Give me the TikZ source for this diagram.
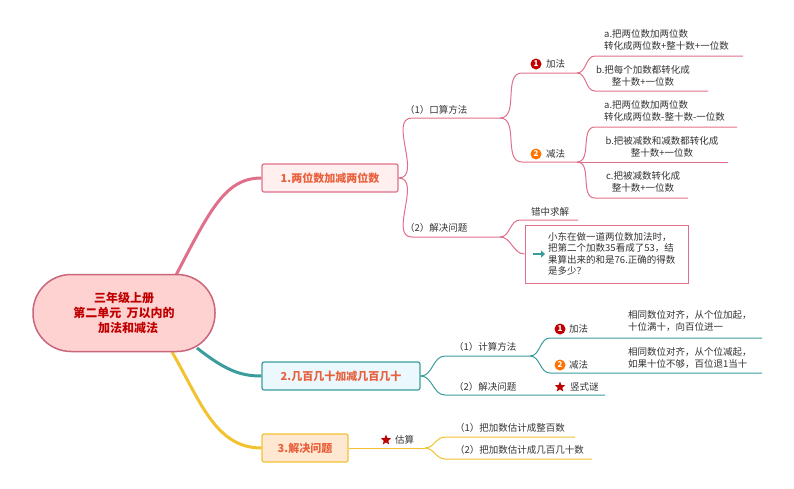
\documentclass[tikz,border=0pt]{standalone}
\usepackage{fontspec}
\setmainfont{Noto Sans CJK SC}
\usetikzlibrary{shapes.geometric,arrows.meta}
\definecolor{pk}{HTML}{E0708A}
\definecolor{tl}{HTML}{3A9C9C}
\definecolor{yl}{HTML}{F2C230}
\definecolor{txt}{HTML}{333333}
\definecolor{org}{HTML}{E8603C}
\definecolor{rd}{HTML}{C00000}
\tikzset{
 t/.style={font=\fontsize{9.5}{11.5}\selectfont,text=txt,inner sep=0pt,align=left},
 tc/.style={t,align=center},
 br/.style={draw,line width=1.2pt,rounded corners=2pt,minimum height=28pt,font=\fontsize{11}{13}\selectfont\bfseries,text=org},
 ln/.style={line width=1pt},
 num/.style={circle,inner sep=0pt,minimum size=11pt,text=white,font=\fontsize{8}{8}\selectfont\bfseries},
 rstar/.style={star,star points=5,star point ratio=2.3,fill=rd,inner sep=0pt,minimum size=11pt}
}
\begin{document}
\begin{tikzpicture}[x=1pt,y=-1pt]
\useasboundingbox (0,0) rectangle (794,488);
% branch boxes
\node[br,draw=pk,fill=pink!25,minimum width=136pt] (b1) at (330,178) {1.两位数加减两位数};
\node[br,draw=tl,fill=cyan!8,minimum width=158pt] (b2) at (341,376) {2.几百几十加减几百几十};
\node[br,draw=yl,fill=orange!18,minimum width=86pt] (b3) at (305,448) {3.解决问题};
\coordinate (r1) at (175,277);
\coordinate (r2) at (197,348);
\coordinate (r3) at (172,352);
\draw[pk,line width=3pt] (r1) .. controls (210,210) and (225,178) .. (b1.west);
\draw[tl,line width=3pt] (r2) .. controls (225,370) and (240,376) .. (b2.west);
\draw[yl,line width=3pt] (r3) .. controls (200,400) and (215,448) .. (b3.west);
\node[draw=pk!90!black,line width=1.5pt,fill=pink!70,rounded corners=38pt,minimum width=182pt,minimum height=77pt,font=\fontsize{12}{15}\selectfont\bfseries,text=rd,align=center] (root) at (124,313) {三年级上册\\第二单元\ \ 万以内的\\\ \ \ 加法和减法};
% branch 1
\begin{scope}[pk,ln]
\coordinate (k1) at (500,118); \coordinate (k2) at (500,237);
\draw (b1.east) to[out=0,in=180] (412,118) -- (k1);
\draw (b1.east) to[out=0,in=180] (412,237) -- (k2);
\coordinate (a1) at (577,73); \coordinate (s1) at (577,162);
\draw (k1) to[out=0,in=180] (522,73) -- (a1);
\draw (k1) to[out=0,in=180] (522,162) -- (s1);
\coordinate (a1a) at (743,56); \coordinate (a1b) at (708,91);
\draw (a1) to[out=0,in=180] (595,56) -- (a1a);
\draw (a1) to[out=0,in=180] (595,91) -- (a1b);
\coordinate (s1a) at (737,127); \coordinate (s1b) at (728,162); \coordinate (s1c) at (688,198);
\draw (s1) to[out=0,in=180] (595,127) -- (s1a);
\draw (s1) -- (s1b);
\draw (s1) to[out=0,in=180] (595,198) -- (s1c);
\coordinate (e1) at (578,220);
\draw (k2) to[out=0,in=180] (520,220) -- (e1);
\node[draw=pk,line width=1pt,minimum width=163pt,minimum height=58pt] (qbox) at (606.5,254) {};
\draw (k2) to[out=0,in=180] (qbox.west);
\end{scope}
\node[t,anchor=west] (n11) at (405,110) {（1）口算方法};
\node[t,anchor=west] (n12) at (405,228) {（2）解决问题};
\node[num,fill=rd] (c1) at (536,64) {1};
\node[t,anchor=west] (jf) at (546,64) {加法};
\node[num,fill=orange!90!red] (c2) at (536,154) {2};
\node[t,anchor=west] (jian) at (546,154) {减法};
\node[t,anchor=west] (ta1) at (604,40) {a.把两位数加两位数\\转化成两位数+整十数+一位数};
\node[tc] (ta2) at (643,76) {b.把每个加数都转化成\\整十数+一位数};
\node[t,anchor=west] (ts1) at (604,111) {a.把两位数加两位数\\转化成两位数-整十数-一位数};
\node[tc] (ts2) at (662,147) {b.把被减数和减数都转化成\\整十数+一位数};
\node[tc] (ts3) at (643,182) {c.把被减数转化成\\整十数+一位数};
\node[t,anchor=west] (cz) at (531,212) {错中求解};
\node[t,anchor=west] (q) at (548,254) {小东在做一道两位数加法时，\\把第二个加数35看成了53，结\\果算出来的和是76.正确的得数\\是多少？};
\draw[tl,line width=2pt,-{Triangle[length=4pt,width=7pt]}] (533,254) -- (545,254);
% branch 2
\begin{scope}[tl,ln]
\coordinate (m1) at (530,356);
\draw (b2.east) to[out=0,in=180] (445,356) -- (m1);
\coordinate (m2) at (605,395);
\draw (b2.east) to[out=0,in=180] (445,395) -- (m2);
\coordinate (p1) at (762,338); \coordinate (p2) at (762,373);
\draw (m1) to[out=0,in=180] (550,338) -- (p1);
\draw (m1) to[out=0,in=180] (550,373) -- (p2);
\end{scope}
\node[t,anchor=west] (j1) at (454,347) {（1）计算方法};
\node[t,anchor=west] (j2) at (454,387) {（2）解决问题};
\node[num,fill=rd] (c3) at (560,329) {1};
\node[t,anchor=west] (jf2) at (569,329) {加法};
\node[num,fill=orange!90!red] (c4) at (560,365) {2};
\node[t,anchor=west] (jian2) at (569,365) {减法};
\node[t,anchor=west] (pa) at (628,321) {相同数位对齐，从个位加起，\\十位满十，向百位进一};
\node[t,anchor=west] (pb) at (628,358) {相同数位对齐，从个位减起，\\如果十位不够，百位退1当十};
\node[rstar] (st1) at (560,387) {};
\node[t,anchor=west] (sm) at (570,387) {竖式谜};
% branch 3
\begin{scope}[yl,ln]
\coordinate (g) at (425,448);
\draw (b3.east) -- (g);
\coordinate (g1) at (575,437); \coordinate (g2) at (592,459);
\draw (g) to[out=0,in=180] (445,437) -- (g1);
\draw (g) to[out=0,in=180] (445,459) -- (g2);
\end{scope}
\node[rstar] (st2) at (386,440) {};
\node[t,anchor=west] (gs) at (395,440) {估算};
\node[t,anchor=west] (g1t) at (455,428) {（1）把加数估计成整百数};
\node[t,anchor=west] (g2t) at (455,450) {（2）把加数估计成几百几十数};
\end{tikzpicture}
\end{document}
